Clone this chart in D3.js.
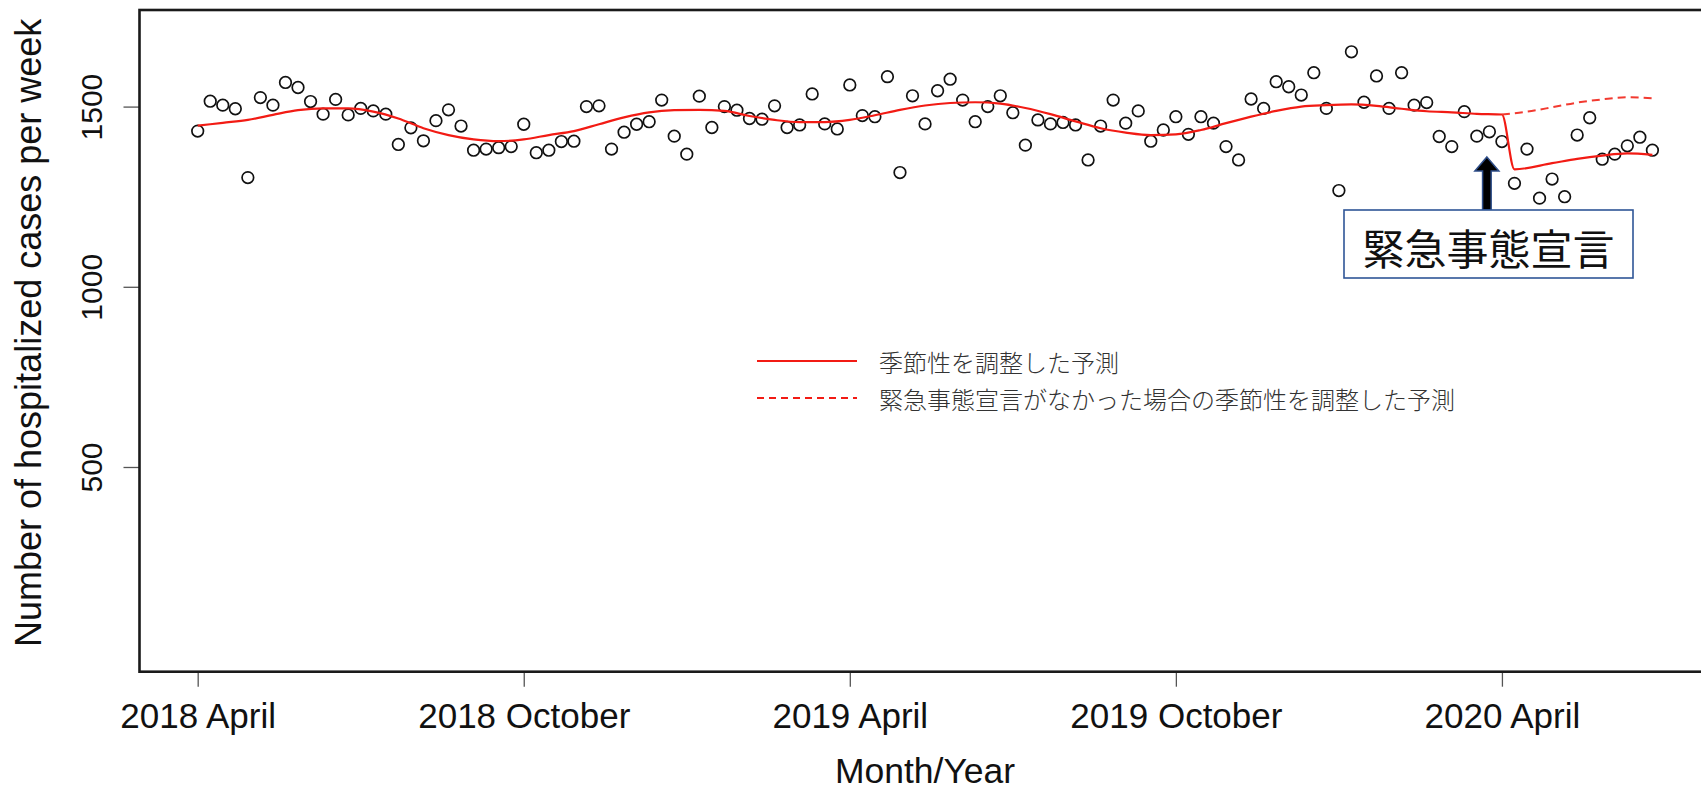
<!DOCTYPE html>
<html>
<head>
<meta charset="utf-8">
<script src="https://cdn.jsdelivr.net/npm/d3@7"></script>
<style>
  html, body { margin: 0; padding: 0; background: #fff; }
  svg { display: block; }
</style>
</head>
<body>
<svg id="chart" width="1701" height="795"></svg>
<script>
// Weekly hospitalized cases (week index 0 = 2018 April)
const observed = [
  1432, 1515, 1504, 1494, 1303, 1525, 1504, 1567, 1553, 1514,
  1479, 1520, 1477, 1495, 1488, 1479, 1395, 1441, 1405, 1461,
  1491, 1446, 1379, 1382, 1386, 1389, 1451, 1372, 1379, 1403,
  1404, 1500, 1502, 1382, 1429, 1451, 1458, 1518, 1418, 1368,
  1529, 1442, 1500, 1490, 1467, 1465, 1502, 1442, 1449, 1535,
  1452, 1438, 1560, 1475, 1472, 1583, 1317, 1530, 1452, 1544,
  1576, 1518, 1458, 1500, 1530, 1483, 1393, 1463, 1452, 1456,
  1449, 1352, 1446, 1518, 1454, 1488, 1404, 1435, 1472, 1423,
  1472, 1454, 1389, 1352, 1521, 1495, 1569, 1555, 1532, 1594,
  1495, 1267, 1652, 1512, 1585, 1495, 1594, 1504, 1511, 1417,
  1389, 1486, 1418, 1430, 1403, 1287, 1382, 1246, 1299, 1250,
  1421, 1469, 1354, 1368, 1391, 1415, 1379
];

// Seasonally adjusted fit (week index, value)
const fitWeeks = [0, 2, 4, 6, 8, 10, 12, 14, 16, 18, 20, 22, 24, 26, 28, 30, 32, 34, 36, 38,
  40, 42, 44, 46, 48, 50, 52, 54, 56, 58, 60, 62, 64, 66, 68, 70, 72, 74, 76, 78,
  80, 82, 84, 86, 88, 90, 92, 94, 96, 98, 100, 102, 104, 105, 108, 110, 112, 114, 116];
const fitValues = [1447, 1455, 1463, 1477, 1490, 1495, 1495, 1486, 1467, 1440, 1421, 1409, 1404, 1409, 1421, 1432, 1451, 1470, 1484, 1490,
  1491, 1488, 1474, 1463, 1457, 1457, 1463, 1476, 1491, 1503, 1510, 1512, 1508, 1496, 1479, 1459, 1440, 1428, 1421, 1423,
  1435, 1454, 1472, 1488, 1500, 1504, 1506, 1502, 1494, 1487, 1484, 1480, 1478, 1326, 1343, 1355, 1364, 1370, 1366];

// Counterfactual fit without the state of emergency
const cfWeeks = [104, 106, 108, 110, 112, 114, 116];
const cfValues = [1478, 1486, 1498, 1511, 1520, 1526, 1523];

const xTickWeeks = [0, 26, 52, 78, 104];
const xTickLabels = ["2018 April", "2018 October", "2019 April", "2019 October", "2020 April"];
const yTicks = [500, 1000, 1500];

const legendLabels = ["季節性を調整した予測", "緊急事態宣言がなかった場合の季節性を調整した予測"];
const annotationText = "緊急事態宣言";

const svg = d3.select("#chart");
const L = 139.5, R = 1710.6, T = 10, B = 671.7;

const x = d3.scaleLinear().domain([-4.64, 120.64]).range([L, R]);
const y = d3.scaleLinear().domain([-68, 1768]).range([B, T]);

const sansFont = "'Liberation Sans', Arial, Helvetica, sans-serif";
const cjkFont = "'Noto Sans CJK JP', 'Noto Sans CJK SC', sans-serif";

// X axis
const xAxis = d3.axisBottom(x).tickValues(xTickWeeks)
  .tickFormat((d, i) => xTickLabels[i]).tickSize(15).tickPadding(0);
const gx = svg.append("g").attr("transform", `translate(0,${B})`).call(xAxis);
gx.select(".domain").remove();
gx.selectAll(".tick line").attr("stroke", "#555").attr("stroke-width", 1.3);
gx.selectAll(".tick text").attr("font-family", sansFont).attr("font-size", 35)
  .attr("fill", "#111").attr("dy", null).attr("y", 56);

// Y axis
const yAxis = d3.axisLeft(y).tickValues(yTicks).tickFormat(d3.format("d"))
  .tickSize(16).tickPadding(0);
const gy = svg.append("g").attr("transform", `translate(${L},0)`).call(yAxis);
gy.select(".domain").remove();
gy.selectAll(".tick line").attr("stroke", "#555").attr("stroke-width", 1.3);
gy.selectAll(".tick text").attr("font-family", sansFont).attr("font-size", 30)
  .attr("fill", "#111").attr("x", null).attr("dy", null)
  .attr("text-anchor", "middle")
  .attr("transform", "translate(-38,0) rotate(-90)");

// Frame
svg.append("rect").attr("x", L).attr("y", T).attr("width", R - L).attr("height", B - T)
  .attr("fill", "none").attr("stroke", "#1a1a1a").attr("stroke-width", 2.6);

// Points
svg.append("g").selectAll("circle").data(observed).join("circle")
  .attr("cx", (d, i) => x(i)).attr("cy", d => y(d)).attr("r", 5.8)
  .attr("fill", "none").attr("stroke", "#111").attr("stroke-width", 1.7);

// Lines
const line = d3.line().x(d => x(d[0])).y(d => y(d[1])).curve(d3.curveMonotoneX);
svg.append("path").datum(fitWeeks.map((w, i) => [w, fitValues[i]]))
  .attr("d", line).attr("fill", "none").attr("stroke", "#f21b14").attr("stroke-width", 2.2);
svg.append("path").datum(cfWeeks.map((w, i) => [w, cfValues[i]]))
  .attr("d", line).attr("fill", "none").attr("stroke", "#f23a30").attr("stroke-width", 2)
  .attr("stroke-dasharray", "8,5");

// Legend
const lg = svg.append("g");
[0, 1].forEach(i => {
  const ly = 361 + i * 37;
  lg.append("line").attr("x1", 757).attr("x2", 857).attr("y1", ly).attr("y2", ly)
    .attr("stroke", "#f21b14").attr("stroke-width", 2)
    .attr("stroke-dasharray", i === 1 ? "7,5" : null);
  lg.append("text").attr("x", 879).attr("y", ly).attr("dominant-baseline", "central")
    .attr("font-family", cjkFont).attr("font-size", 24).attr("font-weight", 300)
    .attr("fill", "#333").text(legendLabels[i]);
});

// Annotation: arrow + box
const ax = x(102.8);
const tipY = 157, headY = 171, baseY = 210;
svg.append("path")
  .attr("d", `M${ax},${tipY} L${ax + 12},${headY} L${ax + 4.3},${headY} L${ax + 4.3},${baseY} L${ax - 4.3},${baseY} L${ax - 4.3},${headY} L${ax - 12},${headY} Z`)
  .attr("fill", "#000").attr("stroke", "#2f4f8a").attr("stroke-width", 1.5);

const bx0 = 1344, bx1 = 1633, by0 = 210, by1 = 278;
svg.append("rect").attr("x", bx0).attr("y", by0).attr("width", bx1 - bx0).attr("height", by1 - by0)
  .attr("fill", "#fff").attr("stroke", "#2f5597").attr("stroke-width", 1.6);
svg.append("text").attr("x", (bx0 + bx1) / 2).attr("y", (by0 + by1) / 2 + 2)
  .attr("text-anchor", "middle").attr("dominant-baseline", "central")
  .attr("font-family", cjkFont).attr("font-size", 42).attr("fill", "#111")
  .text(annotationText);

// Axis titles
svg.append("text").attr("x", (L + R) / 2).attr("y", 783).attr("text-anchor", "middle")
  .attr("font-family", sansFont).attr("font-size", 35.5).attr("fill", "#111").text("Month/Year");
svg.append("text").attr("transform", `translate(41,${(T + B) / 2 - 8}) rotate(-90)`)
  .attr("text-anchor", "middle")
  .attr("font-family", sansFont).attr("font-size", 36).attr("fill", "#111")
  .text("Number of hospitalized cases per week");
</script>
</body>
</html>
